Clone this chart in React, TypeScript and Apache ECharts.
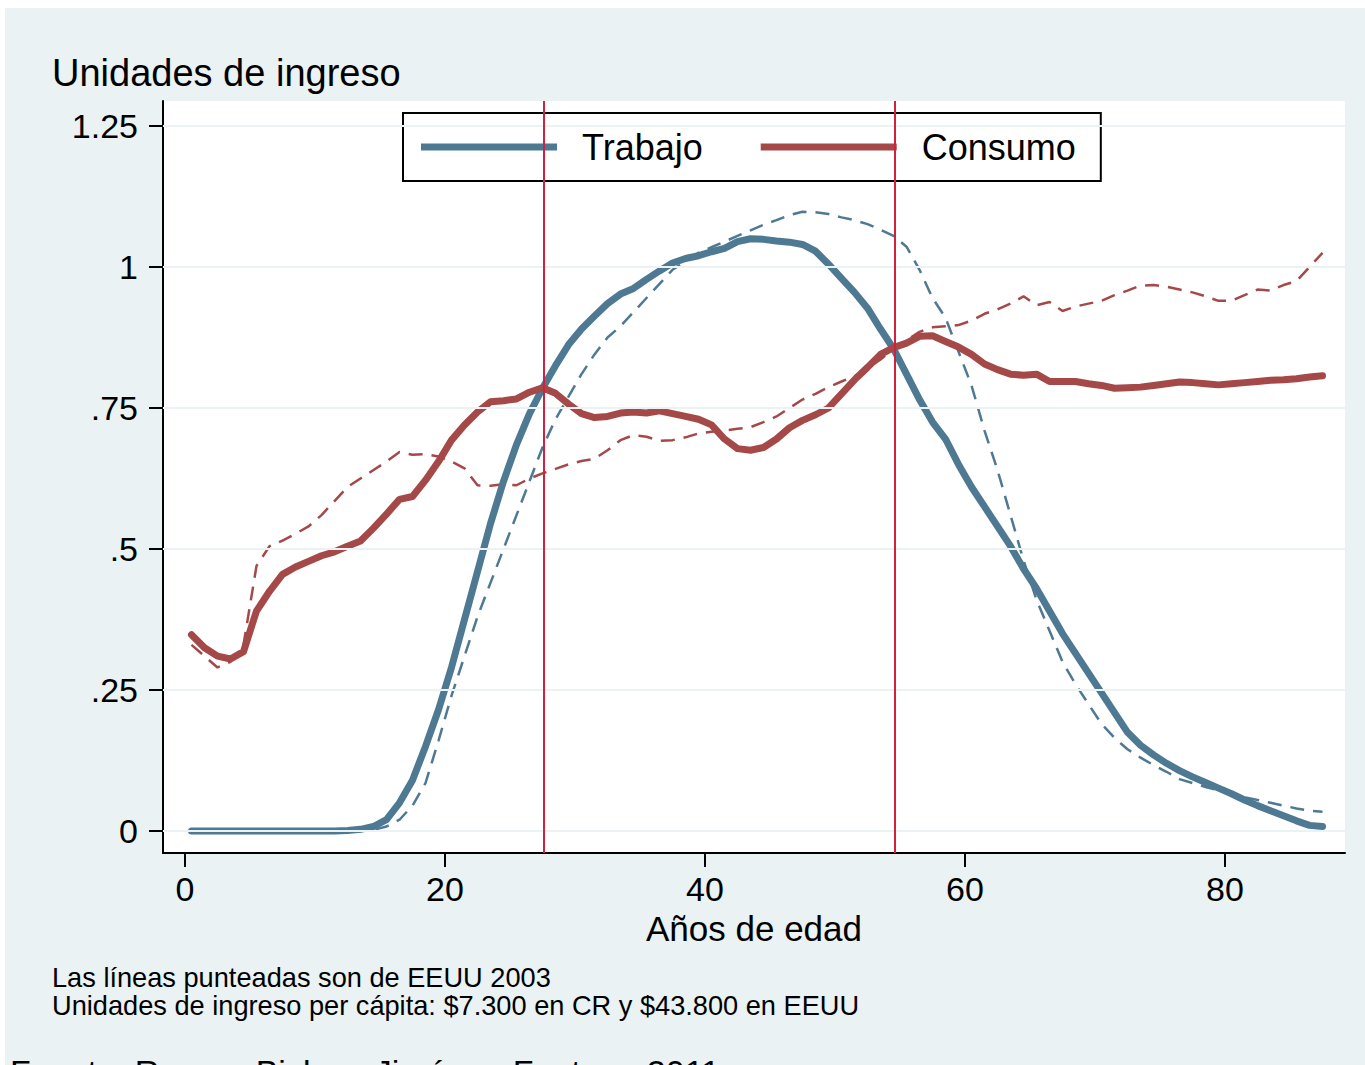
import React, { useEffect, useRef } from "react";
import * as echarts from "echarts";

const ages = [
  0.5, 1.5, 2.5, 3.5, 4.5, 5.5, 6.5, 7.5, 8.5, 9.5,
  10.5, 11.5, 12.5, 13.5, 14.5, 15.5, 16.5, 17.5, 18.5, 19.5,
  20.5, 21.5, 22.5, 23.5, 24.5, 25.5, 26.5, 27.5, 28.5, 29.5,
  30.5, 31.5, 32.5, 33.5, 34.5, 35.5, 36.5, 37.5, 38.5, 39.5,
  40.5, 41.5, 42.5, 43.5, 44.5, 45.5, 46.5, 47.5, 48.5, 49.5,
  50.5, 51.5, 52.5, 53.5, 54.5, 55.5, 56.5, 57.5, 58.5, 59.5,
  60.5, 61.5, 62.5, 63.5, 64.5, 65.5, 66.5, 67.5, 68.5, 69.5,
  70.5, 71.5, 72.5, 73.5, 74.5, 75.5, 76.5, 77.5, 78.5, 79.5,
  80.5, 81.5, 82.5, 83.5, 84.5, 85.5, 86.5, 87.5,
];

// Trabajo (Costa Rica) - solid blue
const trabajoCR = [
  0, 0, 0, 0, 0, 0, 0, 0, 0, 0,
  0, 0, 0.001, 0.003, 0.008, 0.02, 0.05, 0.09, 0.15, 0.215,
  0.29, 0.375, 0.46, 0.545, 0.62, 0.685, 0.74, 0.785, 0.825, 0.862,
  0.89, 0.913, 0.935, 0.952, 0.962, 0.978, 0.993, 1.007, 1.015, 1.02,
  1.027, 1.033, 1.045, 1.05, 1.049, 1.046, 1.044, 1.04, 1.028, 1.005,
  0.98, 0.955, 0.927, 0.89, 0.855, 0.81, 0.765, 0.725, 0.695, 0.65,
  0.61, 0.575, 0.54, 0.505, 0.465, 0.43, 0.39, 0.35, 0.315, 0.28,
  0.245, 0.21, 0.175, 0.152, 0.135, 0.12, 0.107, 0.096, 0.086, 0.076,
  0.066, 0.055, 0.045, 0.036, 0.027, 0.018, 0.01, 0.008,
];

// Trabajo (EEUU 2003) - dashed blue
const trabajoUS = [
  0, 0, 0, 0, 0, 0, 0, 0, 0, 0,
  0, 0, 0, 0, 0.002, 0.008, 0.02, 0.045, 0.085, 0.16,
  0.24, 0.31, 0.38, 0.44, 0.50, 0.56, 0.62, 0.68, 0.73, 0.77,
  0.81, 0.845, 0.875, 0.895, 0.92, 0.945, 0.97, 0.995, 1.01, 1.025,
  1.035, 1.045, 1.055, 1.065, 1.075, 1.083, 1.092, 1.098, 1.097, 1.094,
  1.088, 1.083, 1.076, 1.066, 1.055, 1.036, 0.995, 0.945, 0.91, 0.85,
  0.79, 0.71, 0.64, 0.56, 0.48, 0.41, 0.355, 0.30, 0.26, 0.225,
  0.19, 0.165, 0.145, 0.13, 0.117, 0.105, 0.092, 0.085, 0.078, 0.072,
  0.066, 0.06, 0.055, 0.05, 0.045, 0.04, 0.036, 0.034,
];

// Consumo (Costa Rica) - solid red
const consumoCR = [
  0.348, 0.325, 0.31, 0.305, 0.318, 0.39, 0.425, 0.455, 0.468, 0.478,
  0.488, 0.495, 0.505, 0.514, 0.537, 0.562, 0.588, 0.593, 0.622, 0.655,
  0.693, 0.72, 0.743, 0.761, 0.763, 0.766, 0.778, 0.786, 0.776, 0.757,
  0.74, 0.733, 0.735, 0.741, 0.743, 0.741, 0.745, 0.74, 0.735, 0.73,
  0.72, 0.695, 0.678, 0.675, 0.68, 0.695, 0.715, 0.728, 0.738, 0.75,
  0.775, 0.80, 0.822, 0.845, 0.857, 0.865, 0.877, 0.878, 0.868, 0.858,
  0.845, 0.828, 0.818, 0.81, 0.808, 0.81, 0.797, 0.797, 0.797, 0.793,
  0.79, 0.785, 0.786, 0.787, 0.79, 0.793, 0.796, 0.795, 0.793, 0.791,
  0.793, 0.795, 0.797, 0.799, 0.80, 0.802, 0.805, 0.807,
];

// Consumo (EEUU 2003) - dashed red
const consumoUS = [
  0.33, 0.31, 0.29, 0.30, 0.33, 0.47, 0.505, 0.515, 0.527, 0.54,
  0.56, 0.585, 0.61, 0.625, 0.64, 0.655, 0.672, 0.667, 0.668, 0.664,
  0.655, 0.643, 0.613, 0.612, 0.615, 0.613, 0.625, 0.634, 0.642, 0.65,
  0.656, 0.66, 0.675, 0.693, 0.702, 0.699, 0.692, 0.693, 0.698, 0.705,
  0.708, 0.71, 0.713, 0.716, 0.725, 0.735, 0.75, 0.765, 0.775, 0.787,
  0.797, 0.806, 0.82, 0.836, 0.855, 0.87, 0.885, 0.893, 0.895, 0.897,
  0.905, 0.917, 0.925, 0.935, 0.948, 0.932, 0.938, 0.922, 0.93, 0.935,
  0.94, 0.95, 0.958, 0.967, 0.968, 0.965, 0.96, 0.955, 0.948, 0.94,
  0.94, 0.95, 0.96, 0.958, 0.968, 0.975, 1.0, 1.025,
];

const xTicks = [0, 20, 40, 60, 80];
const yTicks = [0, 0.25, 0.5, 0.75, 1, 1.25];
const yTickLabels = ["0", ".25", ".5", ".75", "1", "1.25"];
const refAges = [27.6, 54.6];

const legendNames = ["Trabajo", "Consumo"];
const titleText = "Unidades de ingreso";
const xAxisTitle = "Años de edad";
const noteLines = [
  "Las líneas punteadas son de EEUU 2003",
  "Unidades de ingreso per cápita: $7.300 en CR y $43.800 en EEUU",
];
const sourceText = "Fuente: Rosero-Bixby y Jiménez-Fontana 2011";

const BLUE = "#4e7993";
const RED = "#a54848";
const BG = "#eaf2f3";
const FONT = "'Liberation Sans', Arial, Helvetica, sans-serif";

const pairs = (vals: number[]) => ages.map((a, i) => [a, vals[i]]);

export default function App() {
  const ref = useRef<HTMLDivElement>(null);
  useEffect(() => {
    if (!ref.current) return;
    const chart = echarts.init(ref.current, undefined, { renderer: "svg" });
    const option: any = {
      animation: false,
      backgroundColor: BG,
      textStyle: { fontFamily: FONT },
      grid: {
        left: 163,
        right: 20,
        top: 101,
        bottom: 212,
        show: true,
        backgroundColor: "#ffffff",
        borderWidth: 0,
      },
      legend: {
        data: legendNames,
        left: 403,
        top: 113,
        icon: "rect",
        itemWidth: 136,
        itemHeight: 7,
        itemGap: 58,
        padding: [16, 25, 16, 18],
        borderColor: "#000",
        borderWidth: 2,
        backgroundColor: "#fff",
        borderRadius: 0,
        textStyle: {
          fontSize: 36,
          color: "#000",
          fontFamily: FONT,
          padding: [0, 0, 0, 20],
        },
      },
      xAxis: {
        type: "value",
        min: -1.692,
        max: 89.23,
        splitLine: { show: false },
        axisLine: { show: true, onZero: false, lineStyle: { color: "#000", width: 2 } },
        axisTick: {
          show: true,
          customValues: xTicks,
          length: 14,
          lineStyle: { color: "#000", width: 2 },
        },
        axisLabel: {
          customValues: xTicks,
          fontSize: 34,
          color: "#000",
          margin: 19,
          fontFamily: FONT,
        },
        name: xAxisTitle,
        nameLocation: "middle",
        nameGap: 58,
        nameTextStyle: { fontSize: 35, color: "#000", fontFamily: FONT },
      },
      yAxis: {
        type: "value",
        min: -0.039,
        max: 1.2943,
        splitLine: { show: false },
        axisLine: { show: true, onZero: false, lineStyle: { color: "#000", width: 2 } },
        axisTick: {
          show: true,
          customValues: yTicks,
          length: 14,
          lineStyle: { color: "#000", width: 2 },
        },
        axisLabel: {
          customValues: yTicks,
          fontSize: 34,
          color: "#000",
          margin: 25,
          fontFamily: FONT,
          formatter: (v: number) => {
            const i = yTicks.findIndex((t) => Math.abs(t - v) < 1e-6);
            return i >= 0 ? yTickLabels[i] : "";
          },
        },
      },
      graphic: [
        { type: "rect", shape: { x: 0, y: 0, width: 1365, height: 8 }, style: { fill: "#fff" }, silent: true },
        { type: "rect", shape: { x: 0, y: 0, width: 5, height: 1065 }, style: { fill: "#fff" }, silent: true },
        {
          type: "text",
          left: 52,
          top: 54,
          style: { text: titleText, fontSize: 38, fill: "#000", fontFamily: FONT },
        },
        {
          type: "text",
          left: 52,
          top: 964,
          style: { text: noteLines[0], fontSize: 27.2, fill: "#000", fontFamily: FONT },
        },
        {
          type: "text",
          left: 52,
          top: 992,
          style: { text: noteLines[1], fontSize: 27.2, fill: "#000", fontFamily: FONT },
        },
        {
          type: "text",
          left: 10,
          top: 1055,
          style: { text: sourceText, fontSize: 34, fill: "#000", fontFamily: FONT },
        },
      ],
      series: [
        {
          name: "grid",
          type: "line",
          data: [],
          z: 1,
          silent: true,
          markLine: {
            silent: true,
            symbol: ["none", "none"],
            label: { show: false },
            lineStyle: { color: BG, width: 2, type: "solid" },
            data: yTicks.map((v) => ({ yAxis: v })),
          },
        },
        {
          name: "Trabajo EEUU",
          type: "line",
          data: pairs(trabajoUS),
          showSymbol: false,
          symbol: "none",
          z: 2,
          lineStyle: { color: BLUE, width: 2.5, type: [14, 9] },
        },
        {
          name: "Consumo EEUU",
          type: "line",
          data: pairs(consumoUS),
          showSymbol: false,
          symbol: "none",
          z: 2,
          lineStyle: { color: RED, width: 2.5, type: [14, 9] },
        },
        {
          name: "Trabajo",
          type: "line",
          data: pairs(trabajoCR),
          showSymbol: false,
          symbol: "none",
          z: 3,
          itemStyle: { color: BLUE },
          lineStyle: { color: BLUE, width: 7, cap: "round", join: "round" },
        },
        {
          name: "Consumo",
          type: "line",
          data: pairs(consumoCR),
          showSymbol: false,
          symbol: "none",
          z: 3,
          itemStyle: { color: RED },
          lineStyle: { color: RED, width: 7, cap: "round", join: "round" },
        },
        {
          name: "ref",
          type: "line",
          data: [],
          z: 5,
          silent: true,
          markLine: {
            silent: true,
            symbol: ["none", "none"],
            label: { show: false },
            lineStyle: { color: "#d3203f", width: 2, type: "solid" },
            data: refAges.map((a) => ({ xAxis: a })),
          },
        },
      ],
    };
    chart.setOption(option);
    return () => chart.dispose();
  }, []);
  return (
    <div
      ref={ref}
      style={{ position: "absolute", left: 0, top: 0, width: 1365, height: 1065, overflow: "hidden" }}
    />
  );
}
